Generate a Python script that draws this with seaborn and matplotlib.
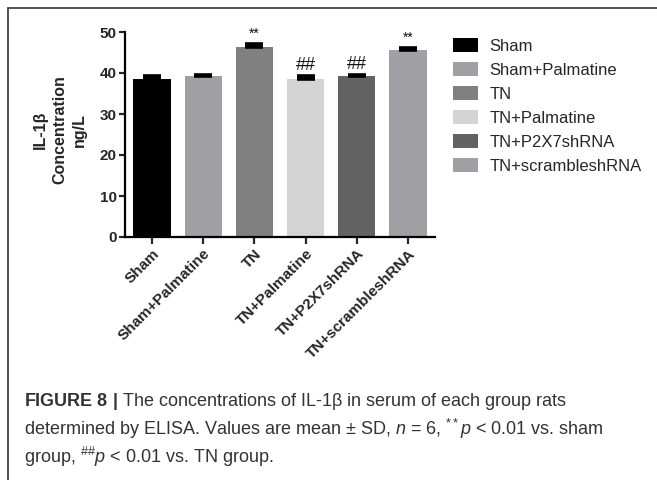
import matplotlib
matplotlib.use("Agg")
import matplotlib.pyplot as plt
from matplotlib.lines import Line2D
import seaborn as sns

# values (ng/L)
groups = ["Sham", "Sham+Palmatine", "TN", "TN+Palmatine", "TN+P2X7shRNA", "TN+scrambleshRNA"]
means = [38.5, 39.2, 46.4, 38.6, 39.2, 45.6]
sds = [0.8, 0.3, 0.6, 0.6, 0.3, 0.4]
marks = ["", "", "**", "##", "##", "**"]
colors = ["#000000", "#a0a0a4", "#808080", "#d4d4d4", "#626262", "#a0a0a4"]

caption = [
    r"$\bf{FIGURE\ 8\ |}$ The concentrations of IL-1β in serum of each group rats",
    r"determined by ELISA. Values are mean $\pm$ SD, $\it{n}$ = 6, $^{**}\it{p}$ < 0.01 vs. sham",
    r"group, $^{\#\#}\it{p}$ < 0.01 vs. TN group.",
]

sns.set_style("white")
plt.rcParams["font.family"] = ["Liberation Sans", "DejaVu Sans"]
plt.rcParams["mathtext.fontset"] = "custom"
plt.rcParams["mathtext.rm"] = "Liberation Sans"
plt.rcParams["mathtext.it"] = "Liberation Sans:italic"
plt.rcParams["mathtext.bf"] = "Liberation Sans:bold"

W, H = 657, 480
fig = plt.figure(figsize=(6.57, 4.80), dpi=100)
ax = fig.add_axes([125 / W, 1 - 237 / H, 310 / W, 205 / H])

sns.barplot(x=groups, y=means, hue=groups, palette=colors, width=0.73,
            edgecolor="none", linewidth=0, ax=ax, legend=True)
# only the upper half of the SD bar shows, as in the original
ax.errorbar(x=range(len(groups)), y=means, yerr=[[0] * len(sds), sds], fmt="none",
            ecolor="black", elinewidth=1.5, capsize=6.5, capthick=2.6)

for i, (m, s, t) in enumerate(zip(means, sds, marks)):
    if t == "**":
        ax.text(i, m + s + 0.9, t, ha="center", va="bottom", fontsize=10, color="#111")
    elif t:
        ax.text(i, m + s + 0.5, t, ha="center", va="bottom", fontsize=13, color="#111")

ax.set_xlim(-0.53, len(groups) - 0.47)
ax.set_ylim(0, 50)
ax.set_yticks([0, 10, 20, 30, 40, 50])
ax.set_xlabel("")
ax.set_ylabel("")
sns.despine(ax=ax)
for sp in ["left", "bottom"]:
    ax.spines[sp].set_linewidth(1.6)
    ax.spines[sp].set_color("black")
ax.tick_params(axis="y", length=4, width=1.6, pad=2, labelsize=11, direction="out", left=True)
ax.tick_params(axis="x", length=5, width=1.6, pad=2, labelsize=11, direction="out", bottom=True)
for lab in ax.get_yticklabels():
    lab.set_fontweight("bold")
ax.set_xticks(range(len(groups)))
ax.set_xticklabels(groups, rotation=45, ha="right", rotation_mode="anchor", fontweight="bold")

fig.text(60 / W, 1 - 130 / H, "IL-1β\nConcentration\nng/L", rotation=90, ha="center",
         va="center", multialignment="center", fontsize=11.5, fontweight="bold", linespacing=1.4)

handles, labels = ax.get_legend_handles_labels()
ax.legend(handles, labels, loc="upper left", bbox_to_anchor=(453 / W, 1 - 38 / H),
          bbox_transform=fig.transFigure, frameon=False, fontsize=12, handlelength=1.5,
          handleheight=0.9, handletextpad=0.7, labelspacing=0.5, borderpad=0, borderaxespad=0)

# outer frame (left and top edges)
fig.add_artist(Line2D([8 / W, 8 / W], [0, 1 - 8 / H], transform=fig.transFigure, color="#444444", lw=1.3))
fig.add_artist(Line2D([8 / W, 1], [1 - 8 / H, 1 - 8 / H], transform=fig.transFigure, color="#444444", lw=1.3))

for k, line in enumerate(caption):
    fig.text(24 / W, 1 - (401 + 28 * k) / H, line, ha="left", va="center", fontsize=13, color="#333333")

fig.savefig("out.png", dpi=100)
